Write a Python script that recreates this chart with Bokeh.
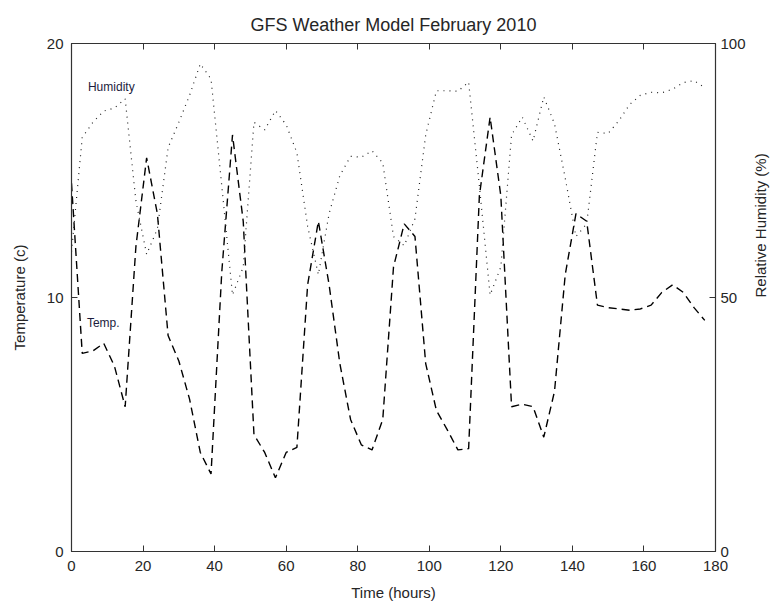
import math
from bokeh.plotting import figure
from bokeh.models import LinearAxis, Range1d, FixedTicker, Label
from bokeh.embed import file_html
from bokeh.resources import INLINE

# ---- data (3-hourly forecast steps) ----
hours = list(range(0, 178, 3))
temperature = [14.5, 7.8, 7.9, 8.2, 7.3, 5.7, 12.0, 15.5, 13.3, 8.5,
               7.5, 6.0, 3.9, 3.05, 11.0, 16.4, 13.0, 4.6, 3.9, 2.9,
               3.9, 4.1, 10.5, 13.0, 10.5, 7.4, 5.2, 4.2, 4.0, 5.2,
               11.2, 12.9, 12.4, 7.4, 5.55, 4.8, 4.0, 4.05, 14.0, 17.1,
               14.0, 5.7, 5.8, 5.7, 4.5, 6.3, 10.9, 13.3, 13.0, 9.7,
               9.6, 9.55, 9.5, 9.55, 9.7, 10.2, 10.5, 10.2, 9.6, 9.1]
humidity = [59.0, 81.5, 84.5, 86.7, 87.3, 89.1, 69.0, 58.5, 63.5, 79.5,
            84.5, 89.8, 96.0, 93.0, 72.0, 50.5, 56.0, 84.5, 83.0, 86.8,
            84.0, 78.5, 64.0, 54.5, 66.5, 74.0, 77.8, 77.6, 78.9, 76.5,
            62.0, 60.2, 65.5, 82.0, 90.7, 90.7, 90.6, 92.4, 72.0, 50.5,
            56.0, 82.0, 85.5, 80.8, 89.5, 84.2, 73.5, 62.0, 64.5, 82.5,
            82.3, 84.8, 88.0, 89.8, 90.4, 90.3, 91.0, 92.3, 92.7, 91.3]
x_ticks = [0, 20, 40, 60, 80, 100, 120, 140, 160, 180]
temp_ticks = [0, 10, 20]
hum_ticks = [0, 50, 100]

FONT = "Liberation Sans"
TXT = "#262626"
AX = "#333333"

p = figure(width=780, height=605, output_backend="svg", toolbar_location=None,
           x_range=Range1d(0, 180), y_range=Range1d(0, 20),
           min_border_left=71, min_border_right=63, min_border_top=43,
           min_border_bottom=54)
p.extra_y_ranges = {"hum": Range1d(0, 100)}
p.background_fill_color = "white"
p.border_fill_color = "white"
p.outline_line_color = AX
p.xgrid.visible = False
p.ygrid.visible = False

p.title.text = "GFS Weather Model February 2010"
p.title.align = "center"
p.title.text_font = FONT
p.title.text_font_size = "18px"
p.title.text_font_style = "normal"
p.title.text_color = TXT
p.title.standoff = 17

bottom = p.below[0]
left = p.left[0]
bottom.axis_label = "Time (hours)"
left.axis_label = "Temperature (c)"
right = LinearAxis(y_range_name="hum", axis_label="Relative Humidity (%)")
p.add_layout(right, "right")
top = LinearAxis()
p.add_layout(top, "above")

def style(ax, ticks):
    ax.ticker = FixedTicker(ticks=ticks)
    ax.major_tick_in = 6
    ax.major_tick_out = 0
    ax.minor_tick_line_color = None
    ax.axis_line_color = AX
    ax.major_tick_line_color = AX
    ax.axis_line_width = 1.2
    ax.major_label_text_font = FONT
    ax.major_label_text_font_size = "15px"
    ax.major_label_text_color = TXT
    ax.axis_label_text_font = FONT
    ax.axis_label_text_font_size = "15px"
    ax.axis_label_text_font_style = "normal"
    ax.axis_label_text_color = TXT

style(bottom, x_ticks)
style(top, x_ticks)
top.major_label_text_color = None
top.major_label_text_font_size = "1px"
top.major_label_standoff = 0
style(left, temp_ticks)
style(right, hum_ticks)
bottom.major_label_standoff = 9
bottom.axis_label_standoff = 10
left.major_label_standoff = 8
left.axis_label_standoff = 16
right.major_label_standoff = 5
right.axis_label_standoff = 12
right.major_label_orientation = "horizontal"
right.axis_label_orientation = math.pi / 2
left.major_label_orientation = "horizontal"

p.line(hours, temperature, line_color="black", line_width=1.4, line_dash="8 5")
p.line(hours, humidity, y_range_name="hum", line_color="#222222",
       line_width=1.2, line_dash="1 5")

p.add_layout(Label(x=4.6, y=18.3, text="Humidity", text_font=FONT,
                   text_font_size="12px", text_color="#1c1c3c",
                   text_baseline="middle"))
p.add_layout(Label(x=4.3, y=9.0, text="Temp.", text_font=FONT,
                   text_font_size="12px", text_color="#1c1c3c",
                   text_baseline="middle"))

open("out.html", "w").write(file_html(p, INLINE))
